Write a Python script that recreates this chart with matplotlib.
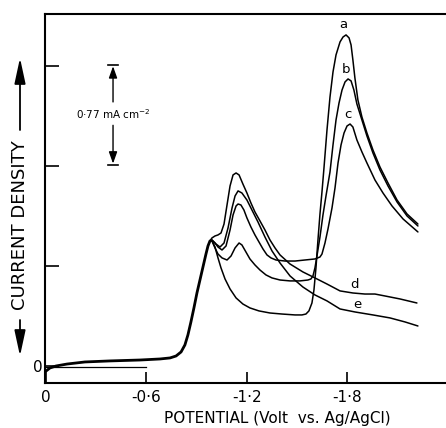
import numpy as np
import matplotlib
matplotlib.use("Agg")
import matplotlib.pyplot as plt

plt.rcParams['font.family'] = ['DejaVu Sans']

# ---- data (potential in V vs Ag/AgCl, current density in mA cm^-2) ----
# common rising foot shared by all curves
foot_v = [0.000, -0.024, -0.060, -0.126, -0.233, -0.383, -0.562, -0.682, -0.742, -0.778,
          -0.808, -0.831, -0.849, -0.867, -0.885, -0.903, -0.921, -0.939, -0.957, -0.969, -0.981]
foot_i = [-0.039, -0.015, 0.000, 0.015, 0.031, 0.039, 0.046, 0.054, 0.062, 0.077,
          0.108, 0.162, 0.239, 0.339, 0.447, 0.562, 0.662, 0.762, 0.862, 0.924, 0.963]

a_v = [-0.993, -1.011, -1.029, -1.047, -1.071, -1.101, -1.137, -1.178, -1.220, -1.274, -1.340,
       -1.412, -1.490, -1.531, -1.555, -1.573, -1.591, -1.603, -1.615, -1.627, -1.639, -1.651,
       -1.663, -1.681, -1.699, -1.717, -1.735, -1.759, -1.777, -1.795, -1.813, -1.825, -1.836,
       -1.848, -1.866, -1.890, -1.920, -1.956, -1.998, -2.046, -2.100, -2.160, -2.225]
a_i = [0.963, 0.916, 0.832, 0.755, 0.670, 0.593, 0.524, 0.477, 0.447, 0.424, 0.408,
       0.400, 0.393, 0.393, 0.400, 0.424, 0.485, 0.585, 0.755, 0.970, 1.170, 1.340,
       1.525, 1.817, 2.071, 2.264, 2.395, 2.495, 2.533, 2.549, 2.526, 2.472, 2.356,
       2.218, 2.048, 1.917, 1.794, 1.663, 1.532, 1.409, 1.278, 1.170, 1.093]

b_v = [-0.993, -1.011, -1.029, -1.053, -1.083, -1.107, -1.131, -1.155, -1.172, -1.196, -1.220,
       -1.250, -1.280, -1.316, -1.352, -1.400, -1.460, -1.519, -1.567, -1.585, -1.597, -1.609,
       -1.621, -1.639, -1.657, -1.675, -1.699, -1.717, -1.735, -1.753, -1.771, -1.789, -1.807,
       -1.825, -1.842, -1.860, -1.890, -1.920, -1.956, -1.998, -2.046, -2.100, -2.160, -2.225]
b_i = [0.963, 0.909, 0.862, 0.832, 0.816, 0.847, 0.909, 0.947, 0.932, 0.878, 0.824,
       0.778, 0.739, 0.701, 0.678, 0.662, 0.655, 0.655, 0.662, 0.670, 0.693, 0.755,
       0.847, 0.993, 1.163, 1.309, 1.494, 1.702, 1.894, 2.025, 2.125, 2.187, 2.210,
       2.195, 2.125, 2.017, 1.894, 1.771, 1.640, 1.509, 1.386, 1.263, 1.155, 1.078]

c_v = [-0.993, -1.011, -1.029, -1.053, -1.077, -1.101, -1.119, -1.137, -1.149, -1.166, -1.184,
       -1.202, -1.226, -1.250, -1.274, -1.298, -1.322, -1.346, -1.376, -1.430, -1.490, -1.549,
       -1.609, -1.639, -1.651, -1.669, -1.687, -1.711, -1.729, -1.747, -1.765, -1.783, -1.801,
       -1.819, -1.836, -1.860, -1.890, -1.920, -1.968, -2.016, -2.070, -2.136, -2.225]
c_i = [0.970, 0.947, 0.916, 0.893, 0.924, 1.047, 1.163, 1.232, 1.247, 1.240, 1.201,
       1.140, 1.070, 1.009, 0.955, 0.901, 0.855, 0.832, 0.816, 0.808, 0.808, 0.816,
       0.824, 0.839, 0.862, 0.947, 1.055, 1.217, 1.371, 1.563, 1.702, 1.794, 1.848,
       1.863, 1.840, 1.740, 1.648, 1.563, 1.432, 1.332, 1.232, 1.132, 1.032]

d_v = [-0.993, -1.011, -1.029, -1.047, -1.065, -1.083, -1.101, -1.119, -1.137, -1.155, -1.178,
       -1.202, -1.226, -1.250, -1.280, -1.310, -1.340, -1.370, -1.400, -1.460, -1.537, -1.609,
       -1.681, -1.759, -1.836, -1.908, -1.968, -2.028, -2.118, -2.219]
d_i = [0.986, 1.001, 1.009, 1.024, 1.093, 1.240, 1.386, 1.471, 1.486, 1.471, 1.401,
       1.332, 1.255, 1.186, 1.117, 1.047, 0.970, 0.909, 0.855, 0.785, 0.724, 0.678,
       0.631, 0.578, 0.562, 0.554, 0.554, 0.539, 0.516, 0.485]

e_v = [-0.993, -1.017, -1.041, -1.065, -1.089, -1.113, -1.131, -1.149, -1.172, -1.202, -1.232,
       -1.268, -1.310, -1.352, -1.400, -1.460, -1.537, -1.609, -1.681, -1.759, -1.848, -1.956,
       -2.058, -2.148, -2.225]
e_i = [0.970, 0.939, 0.916, 0.947, 1.063, 1.217, 1.309, 1.348, 1.332, 1.278, 1.201,
       1.109, 0.993, 0.886, 0.793, 0.693, 0.608, 0.547, 0.501, 0.439, 0.416, 0.393,
       0.370, 0.339, 0.308]

curve_labels = ['a', 'b', 'c', 'd', 'e']
label_v = [-1.777, -1.795, -1.807, -1.848, -1.860]
label_i = [2.633, 2.279, 1.940, 0.631, 0.470]

x_ticks = [0.0, -0.6, -1.2, -1.8]
x_ticklabels = ['0', '-0·6', '-1·2', '-1·8']
y_ticks = [0.0, 0.77, 1.54, 2.31]
y_ticklabels = ['0', '', '', '']
scale_bar = 0.77        # mA cm^-2
scale_bar_v = -0.401
scale_bar_top = 2.318
baseline_v = [0.0, -0.6]
baseline_i = [-0.008, -0.008]

# ---- figure ----
fig = plt.figure(figsize=(4.46, 4.28), dpi=100)
ax = fig.add_axes([45/446, 45/428, 401/446, 369/428])

lw = 1.1
ax.plot(foot_v, foot_i, color='k', lw=2.0, solid_capstyle='round', solid_joinstyle='round')
for v, i in [(a_v, a_i), (b_v, b_i), (c_v, c_i), (d_v, d_i), (e_v, e_i)]:
    ax.plot([foot_v[-1]] + v, [foot_i[-1]] + i, color='k', lw=lw,
            solid_joinstyle='round', solid_capstyle='round')
ax.plot(baseline_v, baseline_i, color='k', lw=0.9)

for t, v, i in zip(curve_labels, label_v, label_i):
    ax.text(v, i, t, fontsize=9.5, ha='center', va='center')

# scale bar
sb_bot = scale_bar_top - scale_bar
sb_mid = (scale_bar_top + sb_bot) / 2
half_w = 0.03
ax.plot([scale_bar_v - half_w, scale_bar_v + half_w], [scale_bar_top]*2, color='k', lw=1.2)
ax.plot([scale_bar_v - half_w, scale_bar_v + half_w], [sb_bot]*2, color='k', lw=1.2)
arr = dict(arrowstyle='-|>,head_length=0.7,head_width=0.25', color='k', lw=1.0,
           shrinkA=0, shrinkB=0, mutation_scale=10)
ax.annotate('', xy=(scale_bar_v, scale_bar_top - 0.01), xytext=(scale_bar_v, sb_mid + 0.1),
            arrowprops=arr)
ax.annotate('', xy=(scale_bar_v, sb_bot + 0.01), xytext=(scale_bar_v, sb_mid - 0.08),
            arrowprops=arr)
ax.text(scale_bar_v, sb_mid + 0.01, '0·77 mA cm$^{-2}$', fontsize=7.5, ha='center', va='center')

# axes styling
ax.set_xlim(0.006, -2.393)
ax.set_ylim(-0.131, 2.710)
for side in ['left', 'bottom', 'top']:
    ax.spines[side].set_linewidth(1.5)
ax.spines['right'].set_visible(False)
ax.set_xticks(x_ticks)
ax.set_xticklabels(x_ticklabels, fontsize=11)
ax.set_yticks(y_ticks)
ax.set_yticklabels(y_ticklabels, fontsize=11)
ax.tick_params(axis='x', direction='in', length=8, width=1.2, pad=5)
ax.tick_params(axis='y', direction='in', length=10, width=1.2, pad=1.5)
ax.set_xlabel('POTENTIAL (Volt  vs. Ag/AgCl)', fontsize=11)
ax.xaxis.set_label_coords(0.58, -0.075)

# y-axis label with arrows
fig.text(20/446, 1 - 225/428, 'CURRENT DENSITY', rotation=90, fontsize=13,
         ha='center', va='center')
arr2 = dict(arrowstyle='-|>,head_length=1.3,head_width=0.28', color='k', lw=1.3,
            shrinkA=0, shrinkB=0, mutation_scale=12)
fig.add_artist(matplotlib.text.Annotation('', xy=(20/446, 1 - 58/428), xytext=(20/446, 1 - 130/428),
               xycoords='figure fraction', textcoords='figure fraction', arrowprops=arr2))
fig.add_artist(matplotlib.text.Annotation('', xy=(20/446, 1 - 356/428), xytext=(20/446, 1 - 320/428),
               xycoords='figure fraction', textcoords='figure fraction', arrowprops=arr2))

fig.savefig('out.png', dpi=100)
